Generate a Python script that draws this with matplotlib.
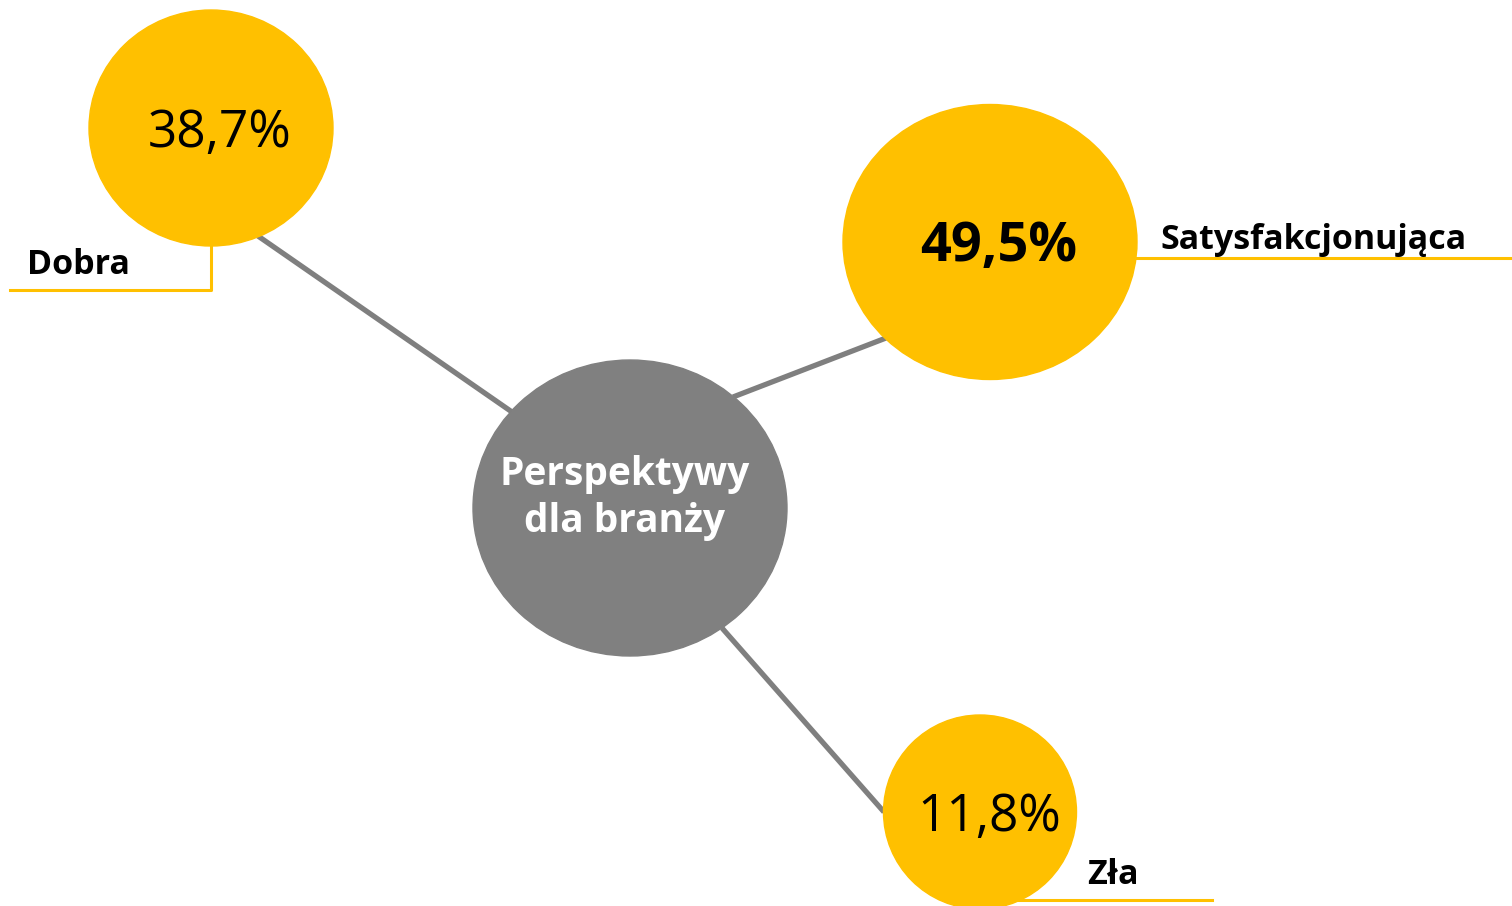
import matplotlib
matplotlib.use('Agg')
import matplotlib.pyplot as plt
from matplotlib.patches import Ellipse

# data
categories = ['Dobra', 'Satysfakcjonująca', 'Zła']
values = [38.7, 49.5, 11.8]
center_label = 'Perspektywy\ndla branży'

# layout (pixel coords, y down)
bubble_xy = [(211, 128), (990, 242), (980, 812)]
bubble_wh = [(244, 236), (294, 275), (193, 194)]
value_weight = ['normal', 'bold', 'normal']
value_size = [37, 39, 37]
link_from = [(512, 412), (733, 397), (722, 628)]
link_to = [(258, 236), (886, 338), (884, 812)]
label_xy = [(27, 274), (1160, 249), (1087, 884)]
guide_x = [[10, 211, 211], [1137, 1512], [1010, 1212]]
guide_y = [[290, 290, 246], [258, 258], [900, 900]]
hub_xy = (630, 508)
hub_wh = (314, 296)

yellow = '#FFC000'
grey = '#808080'
font = ['Open Sans', 'DejaVu Sans']

fig = plt.figure(figsize=(15.12, 9.06), dpi=100)
ax = fig.add_axes([0, 0, 1, 1])
ax.set_xlim(0, 1512)
ax.set_ylim(906, 0)
ax.axis('off')

for a, b in zip(link_from, link_to):
    ax.plot([a[0], b[0]], [a[1], b[1]], color='#7F7F7F', lw=3.8, zorder=1,
            solid_capstyle='butt')

ax.add_patch(Ellipse(hub_xy, hub_wh[0], hub_wh[1], color=grey, zorder=2))
ax.text(hub_xy[0] - 5, hub_xy[1] - 10, center_label, ha='center', va='center',
        color='white', fontsize=28, fontweight='bold', family=font,
        linespacing=1.25, zorder=3)

for i in range(len(categories)):
    ax.add_patch(Ellipse(bubble_xy[i], bubble_wh[i][0], bubble_wh[i][1],
                         color=yellow, zorder=2))
    txt = f'{values[i]:.1f}%'.replace('.', ',')
    ax.text(bubble_xy[i][0] + 9, bubble_xy[i][1] + 5, txt, ha='center',
            va='center', fontsize=value_size[i], fontweight=value_weight[i],
            family=font, color='black', zorder=3)
    ax.plot(guide_x[i], guide_y[i], color=yellow, lw=2.2, zorder=1)
    ax.text(label_xy[i][0], label_xy[i][1], categories[i], ha='left',
            va='baseline', fontsize=24.5, fontweight='bold', family=font,
            color='black', zorder=3)

fig.savefig('out.png', dpi=100)
